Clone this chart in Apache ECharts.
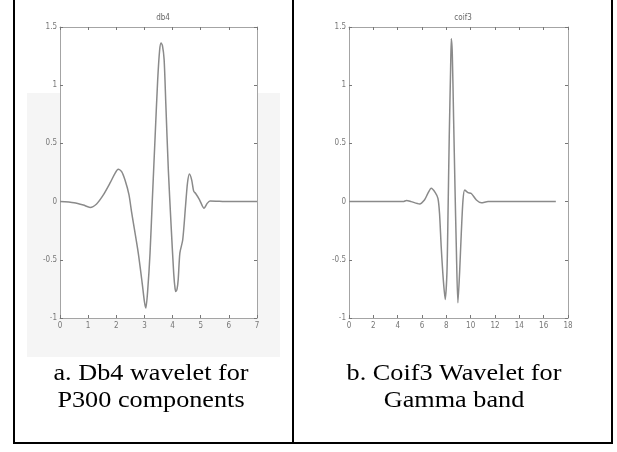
<!DOCTYPE html>
<html>
<head>
<meta charset="utf-8">
<script src="https://cdn.jsdelivr.net/npm/echarts@6/dist/echarts.min.js"></script>
<style>
  html, body { margin: 0; padding: 0; background: #fff; }
  #chart { width: 617px; height: 452px; }
</style>
</head>
<body>
<div id="chart"></div>
<script>
// Wavelet shapes (x, psi)
const db4X = [0, 0.5, 0.83, 1.07, 1.3, 1.54, 1.78, 1.95, 2.07, 2.19, 2.31, 2.45, 2.55, 2.78, 2.92, 3.0, 3.05, 3.12, 3.2, 3.28, 3.38, 3.47, 3.54, 3.59, 3.64, 3.7, 3.76, 3.85, 3.95, 4.04, 4.09, 4.12, 4.16, 4.2, 4.26, 4.36, 4.46, 4.53, 4.6, 4.68, 4.75, 4.82, 4.95, 5.12, 5.23, 5.33, 6, 7];
const db4Y = [0, -0.01, -0.03, -0.05, -0.02, 0.057, 0.16, 0.24, 0.277, 0.257, 0.185, 0.06, -0.10, -0.44, -0.70, -0.86, -0.915, -0.75, -0.44, 0.01, 0.56, 1.04, 1.30, 1.363, 1.34, 1.22, 0.84, 0.27, -0.215, -0.615, -0.75, -0.773, -0.75, -0.67, -0.44, -0.33, -0.04, 0.16, 0.237, 0.185, 0.09, 0.07, 0.02, -0.058, -0.015, 0.005, 0, 0];

const coif3X = [0, 4.45, 4.73, 5.11, 5.8, 6.2, 6.48, 6.76, 7.09, 7.31, 7.44, 7.58, 7.75, 7.91, 8.05, 8.13, 8.24, 8.35, 8.41, 8.49, 8.6, 8.71, 8.82, 8.95, 9.09, 9.23, 9.37, 9.51, 9.78, 10.05, 10.47, 10.88, 11.43, 17];
const coif3Y = [0, 0, 0.01, 0, -0.02, 0.014, 0.07, 0.114, 0.077, 0.028, -0.1, -0.39, -0.67, -0.84, -0.61, -0.16, 0.56, 1.13, 1.40, 1.27, 0.7, 0.13, -0.39, -0.87, -0.61, -0.27, 0.014, 0.1, 0.077, 0.07, 0.014, -0.01, 0, 0];

const titles = ['db4', 'coif3'];
const captionsA = ['a. Db4 wavelet for', 'P300 components'];
const captionsB = ['b. Coif3 Wavelet for', 'Gamma band'];

const axisGray = '#a4a4a4';
const labelFont = '"Liberation Sans Narrow", "DejaVu Sans Condensed", sans-serif';

function zip(xs, ys) { return xs.map((x, i) => [x, ys[i]]); }

// bottom axis + top edge of the MATLAB box
function xAxes(grid, max, step) {
  const base = {
    gridIndex: grid, type: 'value', min: 0, max: max, interval: step,
    axisLine: { show: true, onZero: false, lineStyle: { color: axisGray, width: 1 } },
    axisTick: { show: true, inside: true, length: 3, lineStyle: { color: '#777' } },
    splitLine: { show: false }
  };
  return [
    Object.assign({}, base, { position: 'bottom',
      axisLabel: { color: '#777', fontSize: 8, fontFamily: labelFont, margin: 4 } }),
    Object.assign({}, base, { position: 'top', axisLabel: { show: false } })
  ];
}

function yAxes(grid) {
  const base = {
    gridIndex: grid, type: 'value', min: -1, max: 1.5, interval: 0.5,
    axisLine: { show: true, onZero: false, lineStyle: { color: axisGray, width: 1 } },
    axisTick: { show: true, inside: true, length: 3, lineStyle: { color: '#777' } },
    splitLine: { show: false }
  };
  return [
    Object.assign({}, base, { position: 'left',
      axisLabel: { color: '#777', fontSize: 8, fontFamily: labelFont, margin: 3 } }),
    Object.assign({}, base, { position: 'right', axisLabel: { show: false } })
  ];
}

function line(grid, data) {
  return {
    type: 'line', xAxisIndex: grid * 2, yAxisIndex: grid * 2, data: data,
    showSymbol: false, smooth: 0.25, silent: true,
    lineStyle: { color: '#8a8a8a', width: 1.5 }
  };
}

function caption(lines, cx) {
  return lines.map((t, i) => ({
    type: 'text', x: cx, y: 385 + i * 27.4, scaleX: 1.14,
    style: { text: t, fill: '#000', fontSize: 23, fontFamily: 'Liberation Serif',
      textAlign: 'center', textVerticalAlign: 'bottom' }
  }));
}

function greyBox(x, y, w, h) {
  return { type: 'rect', z: -100, silent: true, shape: { x: x, y: y, width: w, height: h },
    style: { fill: '#f5f5f5' } };
}

const chart = echarts.init(document.getElementById('chart'));
chart.setOption({
  animation: false,
  title: [
    { text: titles[0], left: 158, top: 9, textAlign: 'center',
      textStyle: { fontSize: 8, fontWeight: 'normal', color: '#666', fontFamily: labelFont } },
    { text: titles[1], left: 458, top: 9, textAlign: 'center',
      textStyle: { fontSize: 8, fontWeight: 'normal', color: '#666', fontFamily: labelFont } }
  ],
  grid: [
    { left: 60, top: 27, width: 197, height: 291 },
    { left: 349, top: 27, width: 219, height: 291 }
  ],
  xAxis: xAxes(0, 7, 1).concat(xAxes(1, 18, 2)),
  yAxis: yAxes(0).concat(yAxes(1)),
  series: [
    line(0, zip(db4X, db4Y)),
    line(1, zip(coif3X, coif3Y))
  ],
  graphic: [
    // faint grey backdrop of the pasted left figure (outside its axes)
    greyBox(27, 93, 33, 264),
    greyBox(258, 93, 22, 264),
    greyBox(60, 319, 198, 38),
    // table borders
    { type: 'rect', shape: { x: 13, y: 0, width: 2, height: 444 }, style: { fill: '#000' } },
    { type: 'rect', shape: { x: 292, y: 0, width: 2, height: 444 }, style: { fill: '#000' } },
    { type: 'rect', shape: { x: 611, y: 0, width: 2, height: 444 }, style: { fill: '#000' } },
    { type: 'rect', shape: { x: 13, y: 442, width: 600, height: 2 }, style: { fill: '#000' } }
  ].concat(caption(captionsA, 151)).concat(caption(captionsB, 454))
});
</script>
</body>
</html>
